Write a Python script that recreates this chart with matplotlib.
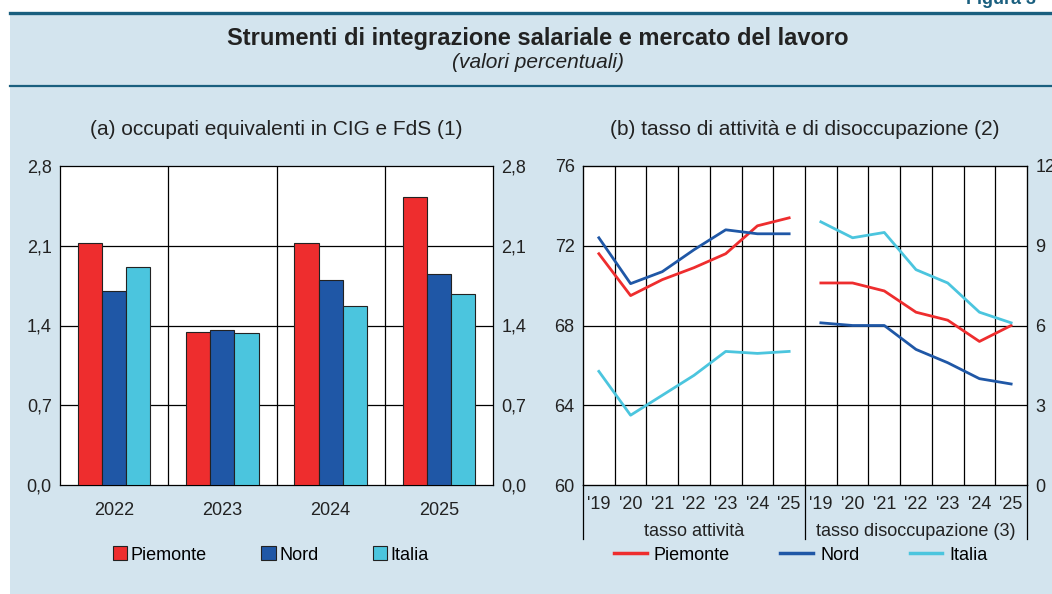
import matplotlib
matplotlib.use("Agg")
import matplotlib.pyplot as plt
import matplotlib.transforms as mtransforms
from matplotlib.patches import Rectangle, Patch
from matplotlib.lines import Line2D
import numpy as np

plt.rcParams["font.family"] = ["Liberation Sans", "DejaVu Sans"]
plt.rcParams["font.size"] = 13

# ---- data ----
bar_years = ["2022", "2023", "2024", "2025"]
cig_piemonte = [2.12, 1.34, 2.12, 2.53]
cig_nord = [1.70, 1.36, 1.80, 1.85]
cig_italia = [1.91, 1.33, 1.57, 1.68]

line_years = ["'19", "'20", "'21", "'22", "'23", "'24", "'25"]
att_piemonte = [71.6, 69.5, 70.3, 70.9, 71.6, 73.0, 73.4]
att_nord = [72.4, 70.1, 70.7, 71.8, 72.8, 72.6, 72.6]
att_italia = [65.7, 63.5, 64.5, 65.5, 66.7, 66.6, 66.7]
dis_piemonte = [7.6, 7.6, 7.3, 6.5, 6.2, 5.4, 6.0]
dis_nord = [6.1, 6.0, 6.0, 5.1, 4.6, 4.0, 3.8]
dis_italia = [9.9, 9.3, 9.5, 8.1, 7.6, 6.5, 6.1]

RED = "#ee2d2e"
BLUE = "#1f57a6"
CYAN = "#4bc5de"
BG = "#d3e4ee"
TEAL = "#1a5f7f"
TXT = "#222222"
TICK = 13

W, H = 1052, 594
fig = plt.figure(figsize=(W / 100, H / 100), dpi=100)
fig.patch.set_facecolor("white")

# panel background and rules
fig.add_artist(Rectangle((10 / W, 0), 1 - 10 / W, 1 - 13 / H, transform=fig.transFigure,
                         facecolor=BG, edgecolor="none", zorder=0))
fig.add_artist(Line2D([10 / W, 1], [1 - 13 / H] * 2, color=TEAL, lw=2.4, zorder=1))
fig.add_artist(Line2D([10 / W, 1], [1 - 86 / H] * 2, color=TEAL, lw=1.6, zorder=1))
fig.text(966 / W, 1 - 0 / H, "Figura 3", color=TEAL, fontsize=13, fontweight="bold",
         ha="left", va="center")
fig.text(538 / W, 1 - 38 / H, "Strumenti di integrazione salariale e mercato del lavoro",
         ha="center", va="center", fontsize=17, fontweight="bold", color=TXT)
fig.text(538 / W, 1 - 63 / H, "(valori percentuali)", ha="center", va="center",
         fontsize=15, style="italic", color=TXT)

# ---- panel (a) ----
ax1 = fig.add_axes([60 / W, 1 - 485 / H, 433 / W, 319 / H])
ax1.set_facecolor("white")
x = np.arange(len(bar_years))
bw = 0.223
for off, vals, col, lab in [(-bw, cig_piemonte, RED, "Piemonte"),
                            (0, cig_nord, BLUE, "Nord"),
                            (bw, cig_italia, CYAN, "Italia")]:
    ax1.bar(x + off, vals, width=bw, color=col, edgecolor="#222222", linewidth=0.8,
            label=lab, zorder=3)
ax1.set_xlim(-0.5, 3.5)
ax1.set_ylim(0, 2.8)
yt = [0.0, 0.7, 1.4, 2.1, 2.8]
ax1.set_yticks(yt)
ax1.set_yticklabels([f"{v:.1f}".replace(".", ",") for v in yt])
ax1.set_xticks(x)
ax1.set_xticklabels(bar_years)
for v in yt[1:-1]:
    ax1.axhline(v, color="black", lw=0.9, zorder=1)
for b in [0.5, 1.5, 2.5]:
    ax1.axvline(b, color="black", lw=0.9, zorder=1)
ax1.tick_params(axis="both", length=0, labelsize=TICK, colors=TXT)
ax1.tick_params(axis="x", pad=12)
ax1.tick_params(axis="y", pad=6, labelright=True)
for s in ax1.spines.values():
    s.set_linewidth(0.9)
ax1.set_title("(a) occupati equivalenti in CIG e FdS (1)", fontsize=15, color=TXT, pad=22)

# ---- panel (b) ----
ax2 = fig.add_axes([583 / W, 1 - 485 / H, 444 / W, 319 / H])
ax2.set_facecolor("white")
xa = np.arange(7)
xd = np.arange(7) + 7
ax2.set_xlim(-0.5, 13.5)
ax2.set_ylim(60, 76)
ax2.set_yticks([60, 64, 68, 72, 76])
for v in [64, 68, 72]:
    ax2.axhline(v, color="black", lw=0.9, zorder=1)
for b in np.arange(0.5, 13.5, 1.0):
    ax2.axvline(b, color="black", lw=0.9, zorder=1)
ax2.plot(xa, att_piemonte, color=RED, lw=2, zorder=3)
ax2.plot(xa, att_nord, color=BLUE, lw=2, zorder=3)
ax2.plot(xa, att_italia, color=CYAN, lw=2, zorder=3)
ax2.set_xticks(np.arange(14))
ax2.set_xticklabels(line_years + line_years)
ax2.tick_params(axis="both", length=0, labelsize=TICK, colors=TXT)
ax2.tick_params(axis="x", pad=8)
ax2.tick_params(axis="y", pad=6)
for s in ax2.spines.values():
    s.set_linewidth(0.9)

ax3 = ax2.twinx()
ax3.set_ylim(0, 12)
ax3.set_yticks([0, 3, 6, 9, 12])
ax3.plot(xd, dis_piemonte, color=RED, lw=2, zorder=3)
ax3.plot(xd, dis_nord, color=BLUE, lw=2, zorder=3)
ax3.plot(xd, dis_italia, color=CYAN, lw=2, zorder=3)
ax3.tick_params(axis="y", length=0, labelsize=TICK, colors=TXT, pad=6)

trans = mtransforms.blended_transform_factory(ax2.transData, ax2.transAxes)
for b in [-0.5, 6.5, 13.5]:
    ax2.plot([b, b], [0, -0.168], transform=trans, color="black", lw=0.9, clip_on=False)
ax2.text(3, -0.145, "tasso attività", transform=trans, ha="center", va="center",
         fontsize=TICK, color=TXT)
ax2.text(10, -0.145, "tasso disoccupazione (3)", transform=trans, ha="center", va="center",
         fontsize=TICK, color=TXT)
ax2.set_title("(b) tasso di attività e di disoccupazione (2)", fontsize=15, color=TXT, pad=22)

# ---- legends ----
bar_handles = [Patch(facecolor=c, edgecolor="#222222", linewidth=0.8) for c in (RED, BLUE, CYAN)]
fig.legend(bar_handles, ["Piemonte", "Nord", "Italia"], loc="center",
           bbox_to_anchor=(271 / W, 1 - 555 / H), ncol=3, frameon=False, fontsize=TICK,
           handlelength=0.8, handleheight=0.8, handletextpad=0.2, columnspacing=3.0)
line_handles = [Line2D([], [], color=c, lw=2.5) for c in (RED, BLUE, CYAN)]
fig.legend(line_handles, ["Piemonte", "Nord", "Italia"], loc="center",
           bbox_to_anchor=(801 / W, 1 - 555 / H), ncol=3, frameon=False, fontsize=TICK,
           handlelength=1.8, handletextpad=0.4, columnspacing=2.8)

fig.savefig("out.png", dpi=100)
